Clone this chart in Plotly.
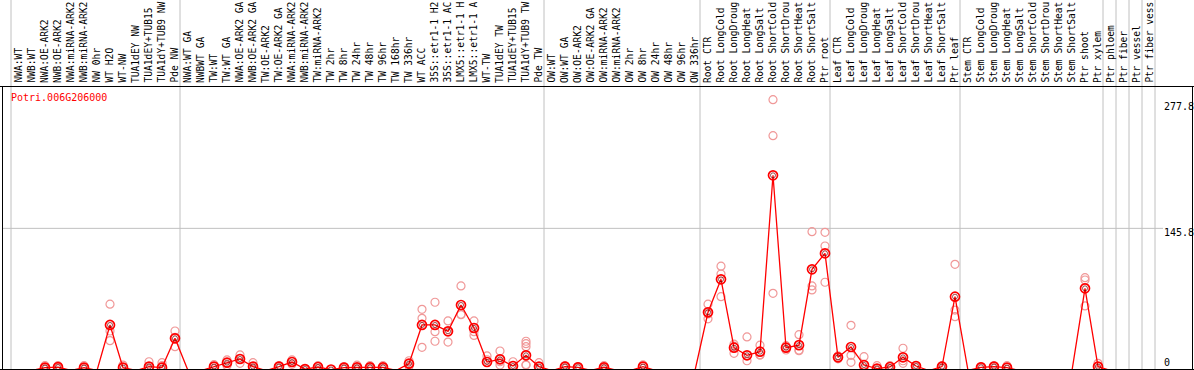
import plotly.graph_objects as go

W, H = 1194, 370

labels = [
    "NWA:WT", "NWB:WT", "NWA:OE-ARK2", "NWB:OE-ARK2", "NWA:miRNA-ARK2", "NWB:miRNA-ARK2",
    "NW 0hr", "WT H2O", "WT-NW", "TUA1dEY NW", "TUA1dEY+TUB15", "TUA1dY+TUB9 NW", "Pde NW",
    "NWA:WT GA", "NWBWT GA", "TW:WT", "TW:WT GA", "NWA:OE-ARK2 GA", "NWB:OE-ARK2 GA",
    "TW:OE-ARK2", "TW:OE-ARK2 GA", "NWA:miRNA-ARK2", "NWB:miRNA-ARK2", "TW:miRNA-ARK2",
    "TW 2hr", "TW 8hr", "TW 24hr", "TW 48hr", "TW 96hr", "TW 168hr", "TW 336hr", "WT ACC",
    "35S::etr1-1 H2", "35S::etr1-1 AC", "LMX5::etr1-1 H", "LMX5::etr1-1 A", "WT-TW",
    "TUA1dEY TW", "TUA1dEY+TUB15", "TUA1dY+TUB9 TW", "Pde TW",
    "OW:WT", "OW:WT GA", "OW:OE-ARK2", "OW:OE-ARK2 GA", "OW:miRNA-ARK2", "OW:miRNA-ARK2",
    "OW 2hr", "OW 8hr", "OW 24hr", "OW 48hr", "OW 96hr", "OW 336hr",
    "Root CTR", "Root LongCold", "Root LongDroug", "Root LongHeat", "Root LongSalt",
    "Root ShortCold", "Root ShortDrou", "Root ShortHeat", "Root ShortSalt", "Ptr root",
    "Leaf CTR", "Leaf LongCold", "Leaf LongDroug", "Leaf LongHeat", "Leaf LongSalt",
    "Leaf ShortCold", "Leaf ShortDrou", "Leaf ShortHeat", "Leaf ShortSalt", "Ptr leaf",
    "Stem CTR", "Stem LongCold", "Stem LongDroug", "Stem LongHeat", "Stem LongSalt",
    "Stem ShortCold", "Stem ShortDrou", "Stem ShortHeat", "Stem ShortSalt", "Ptr shoot",
    "Ptr xylem", "Ptr phloem", "Ptr fiber", "Ptr vessel", "Ptr fiber vess",
]

means = [
    0, 0, 3, 3.5, 0, 3, 0, 46.7, 3, 0, 4, 3, 33,
    0, 0, 4, 8, 11.8, 4, 0, 4, 8.7, 1.5, 3.6, 1, 3, 3.3, 3.3, 3.3, 0, 7,
    46.7, 46.7, 40.2, 67.2, 43.6, 8.7, 11.5, 4.6, 15.6, 4,
    0, 4, 3.3, 0, 3.3, 0, 0, 4, 0, 0, 0, 0,
    59.7, 93.5, 23.4, 15.6, 19.3, 200.2, 23.4, 26, 103.8, 120.2,
    13.5, 24.1, 5.6, 1.9, 3.6, 13.5, 4.6, 0, 4, 75.7,
    0, 3.3, 4, 3, 0, 0, 0, 0, 0, 84.3, 4, 0, 0, 0, 0,
]

replicates = [
    [0, 0, 0], [0, 0, 0], [5, 2, 2], [5, 3, 2.5], [0, 0, 0], [5, 2, 2], [0, 0, 0],
    [68, 40.5, 30.6], [5.6, 3, 0], [0, 0, 0], [9, 3, 0], [8, 5, 0], [40.5, 34, 24.4],
    [0, 0, 0], [0, 0, 0], [6, 4, 2], [10.8, 8, 5], [16, 12, 7.4], [8, 3, 1], [0, 0, 0],
    [5, 4, 3], [10.8, 9, 6.3], [2, 1.5, 1], [5, 4, 2], [1, 1, 1], [4, 3, 2], [5.5, 3, 1.5],
    [5, 3, 2], [5, 3, 2], [0, 0, 0], [10, 7, 4],
    [62.7, 53.5, 23.8], [70, 39.8, 30], [50.8, 40, 29.2], [86.7, 57.6, 57.3],
    [50.8, 39.8, 36], [14.9, 11, 0], [20, 9, 5.6], [9, 4.8, 0],
    [30, 27.5, 24.4, 6, 5.6, 0], [8, 4, 0],
    [0, 0, 0], [5, 4, 3], [4, 3.3, 2.6], [0, 0, 0], [5, 3, 2], [0, 0, 0], [0, 0, 0],
    [5.7, 4, 2.3], [0, 0, 0], [0, 0, 0], [0, 0, 0], [0, 0, 0],
    [68, 58, 53], [107, 99, 75.7], [27, 25, 17.6], [34.4, 10, 0], [26, 16, 16],
    [277.8, 240.8, 79.2], [25.5, 23.4, 21], [36.7, 21, 20.3], [142.4, 86.7, 82.6],
    [141.7, 127.7, 90.5],
    [15, 13.5, 12], [46.3, 15.6, 8.4], [14.2, 2, 0], [5, 1, 0], [5, 4, 2],
    [22.8, 10, 7.4], [5, 5, 4], [0, 0, 0], [5, 4, 3], [108.9, 62, 55.2],
    [0, 0, 0], [4, 3, 3], [5, 4, 3], [5, 3, 1], [0, 0, 0], [0, 0, 0], [0, 0, 0],
    [0, 0, 0], [0, 0, 0], [95.2, 92.8, 66.2], [7.4, 4, 0.6], [0, 0, 0], [0, 0, 0],
    [0, 0, 0], [0, 0, 0],
]

separators_after = [-1, 12, 40, 52, 62, 72, 83, 84, 85, 86, 87]
y_tick_values = [277.8, 145.8, 0]
y_tick_text = ["277.8", "145.8", "0"]
gene = "Potri.006G206000"

FONT = "DejaVu Sans Mono"
x_idx = list(range(len(labels)))

rep_x, rep_y = [], []
for i, reps in enumerate(replicates):
    for v in reps:
        rep_x.append(i)
        rep_y.append(v)

fig = go.Figure()
fig.add_trace(go.Scatter(
    x=rep_x, y=rep_y, mode="markers", cliponaxis=False,
    marker=dict(symbol="circle-open", size=8, color="#f09898", line=dict(width=1.2)),
    hoverinfo="skip",
))
fig.add_trace(go.Scatter(
    x=x_idx, y=means, mode="lines", cliponaxis=False,
    line=dict(color="#ff0000", width=1.3), hoverinfo="skip",
))
fig.add_trace(go.Scatter(
    x=x_idx, y=means, mode="markers", cliponaxis=False,
    marker=dict(symbol="circle-open", size=9, color="#ff0000", line=dict(width=1.7)),
    hoverinfo="skip",
))
fig.add_trace(go.Scatter(
    x=x_idx, y=means, mode="markers", cliponaxis=False,
    marker=dict(symbol="circle-open", size=5, color="#700000", line=dict(width=0.7)),
    hoverinfo="skip",
))


def px(x):
    return x / W


def py(y):
    return 1 - y / H


# pixel mapping: x_pix = 19 + 13*k ; y_pix = 370.5 - 0.975*v
X0, XS = 19.0, 13.0
Y0, YS = 370.5, 0.975
top_plot = 87.0

shapes = []
for k in separators_after:
    shapes.append(dict(type="line", xref="x", yref="paper", x0=k + 5 / XS, x1=k + 5 / XS,
                       y0=0, y1=1, line=dict(color="#c0c0c0", width=1), layer="below"))
shapes.append(dict(type="line", xref="paper", yref="y", x0=px(2), x1=px(1163),
                   y0=145.8, y1=145.8, line=dict(color="#c0c0c0", width=1), layer="below"))
# frame
shapes.append(dict(type="line", xref="paper", yref="paper", x0=0, x1=1, y0=py(86.5), y1=py(86.5),
                   line=dict(color="black", width=1)))
shapes.append(dict(type="line", xref="paper", yref="paper", x0=px(2.5), x1=px(2.5), y0=0, y1=py(86.5),
                   line=dict(color="black", width=1)))
shapes.append(dict(type="line", xref="paper", yref="paper", x0=px(1192.5), x1=px(1192.5), y0=0,
                   y1=py(86.5), line=dict(color="black", width=1)))
shapes.append(dict(type="line", xref="paper", yref="paper", x0=0, x1=1, y0=py(369.5), y1=py(369.5),
                   line=dict(color="black", width=1)))

annotations = []
for i, lab in enumerate(labels):
    annotations.append(dict(
        x=i, xref="x", y=py(84), yref="paper", text=lab, textangle=-90, showarrow=False,
        xanchor="center", yanchor="bottom", xshift=-1, borderpad=0,
        font=dict(family=FONT, size=9.6, color="black"),
    ))
annotations.append(dict(x=px(9), y=py(98), xref="paper", yref="paper", text=gene,
                        showarrow=False, xanchor="left", yanchor="middle",
                        font=dict(family=FONT, size=10, color="#ff0000")))
label_y = {"277.8": 107, "145.8": 232.5, "0": 362}
for v, t in zip(y_tick_values, y_tick_text):
    annotations.append(dict(x=px(1162), y=py(label_y[t]), xref="paper", yref="paper", text=t,
                            showarrow=False, xanchor="left", yanchor="middle",
                            font=dict(family=FONT, size=10, color="black")))

fig.update_layout(
    width=W, height=H, margin=dict(l=0, r=0, t=0, b=0, pad=0),
    paper_bgcolor="white", plot_bgcolor="rgba(0,0,0,0)", showlegend=False,
    xaxis=dict(domain=[0, 1], range=[(0 - X0) / XS, (W - X0) / XS], visible=False,
               showgrid=False, zeroline=False),
    yaxis=dict(domain=[0, py(top_plot)], range=[(Y0 - H) / YS, (Y0 - top_plot) / YS],
               visible=False, showgrid=False, zeroline=False),
    shapes=shapes, annotations=annotations,
)

fig.write_html(
    "out.html",
    config={"displayModeBar": False, "staticPlot": True},
    post_script="document.body.style.margin='0';document.body.style.overflow='hidden';",
)
